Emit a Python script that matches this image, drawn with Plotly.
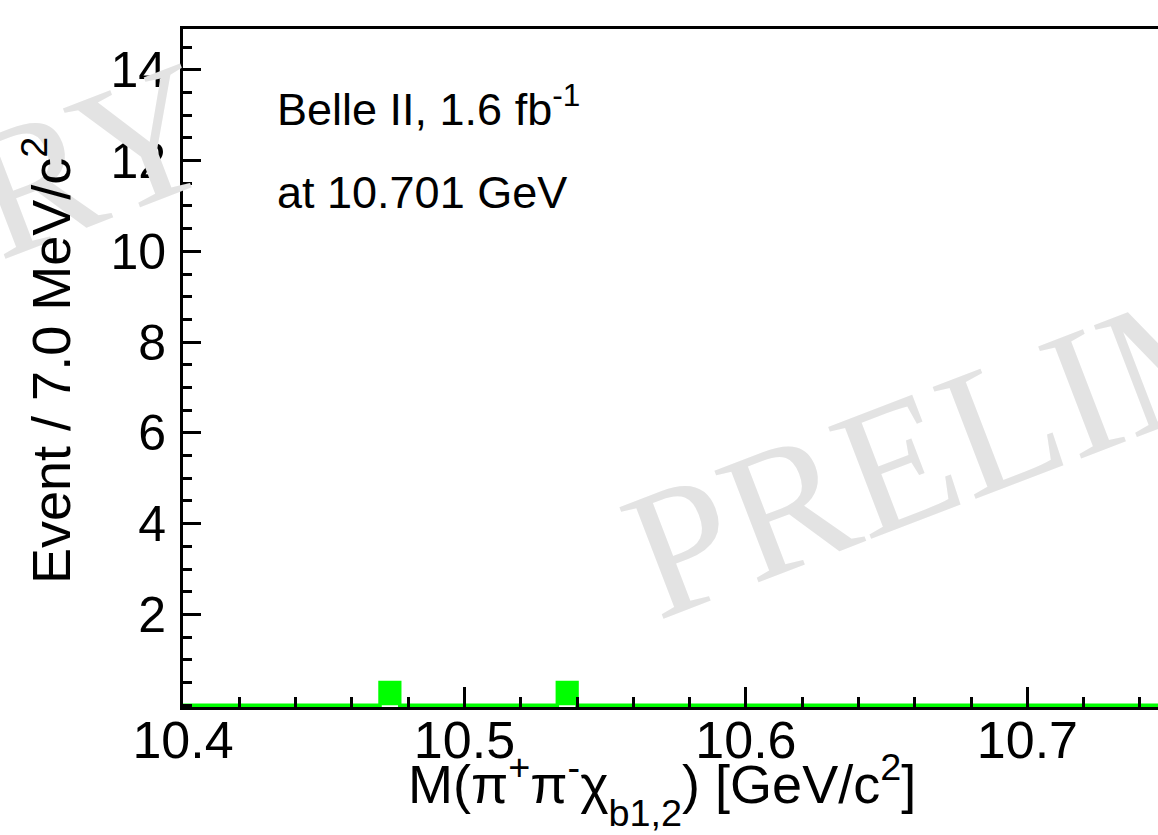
import numpy as np
import plotly.graph_objects as go

# Histogram binning: 7.0 MeV/c^2 bins starting at 10.4 GeV/c^2
bin_start = 10.4
bin_width = 0.007
counts = [0, 0, 0, 0, 0, 0, 0, 0, 0, 0,
          0.5, 0, 0, 0, 0, 0, 0, 0, 0, 0.5,
          0, 0, 0, 0, 0, 0, 0, 0, 0, 0,
          0, 0, 0, 0, 0, 0, 0, 0, 0, 0,
          0, 0, 0, 0, 0, 0, 0, 0, 0, 0]

x_ticks = [10.4, 10.5, 10.6, 10.7]
y_ticks = [2, 4, 6, 8, 10, 12, 14]

edges = bin_start + bin_width * np.arange(len(counts) + 1)
step_y = list(counts) + [counts[-1]]

W, H = 1158, 835
ML, MR, MT, MB = 183, 0, 29, 128
FONT = "Liberation Sans, Arial, Helvetica, sans-serif"
GREEN = "#00ff00"

fig = go.Figure()
fig.add_trace(go.Scatter(
    x=edges, y=step_y, mode="lines", line_shape="hv",
    line=dict(color=GREEN, width=3.5),
    fill="tozeroy", fillcolor=GREEN, hoverinfo="skip", showlegend=False,
))


def px_x(p):
    return (p - ML) / (W - ML - MR)


def px_y(p):
    return (H - MB - p) / (H - MT - MB)


annotations = []
# Watermark, tiled along a tilted baseline
for cx, cy in [(1214, 341), (-374, 338)]:
    annotations.append(dict(
        text="PRELIMINARY", xref="paper", yref="paper",
        x=px_x(cx), y=px_y(cy), xanchor="center", yanchor="middle",
        textangle=-21, showarrow=False,
        font=dict(family="Liberation Serif, Times New Roman, serif",
                  size=183, color="#e3e3e3"),
    ))

x_title = ("M(π<sup>+</sup>π<sup>-</sup>χ"
           "<sub><span style=\"baseline-shift:-12px\">b1,2</span></sub>"
           ") [GeV/c<sup>2</sup>]")

annotations += [
    dict(text="Belle II, 1.6 fb<sup>-1</sup>", xref="paper", yref="paper",
         x=px_x(275), y=px_y(106), xanchor="left", yanchor="middle",
         showarrow=False, font=dict(family=FONT, size=45, color="black")),
    dict(text="at 10.701 GeV", xref="paper", yref="paper",
         x=px_x(275), y=px_y(192), xanchor="left", yanchor="middle",
         showarrow=False, font=dict(family=FONT, size=45, color="black")),
    dict(text="Event / 7.0 MeV/c<sup>2</sup>", xref="paper", yref="paper",
         x=px_x(47), y=px_y(361), xanchor="center", yanchor="middle",
         textangle=-90, showarrow=False,
         font=dict(family=FONT, size=54, color="black")),
    dict(text=x_title, xref="paper", yref="paper",
         x=px_x(662), y=px_y(790), xanchor="center", yanchor="middle",
         showarrow=False, font=dict(family=FONT, size=54, color="black")),
]

fig.update_layout(
    width=W, height=H,
    margin=dict(l=ML, r=MR, t=MT, b=MB, pad=0),
    paper_bgcolor="white", plot_bgcolor="white",
    annotations=annotations,
    xaxis=dict(
        range=[10.4, 10.7464], tickvals=x_ticks,
        ticktext=[f"{v:.1f}" for v in x_ticks],
        ticks="inside", ticklen=20, tickwidth=2.5, tickcolor="black",
        minor=dict(ticks="inside", ticklen=10, tickwidth=2.5,
                   tickcolor="black", dtick=0.02, tick0=10.4),
        showline=True, linecolor="black", linewidth=3, mirror=True,
        showgrid=False, zeroline=False, ticklabelstandoff=-14,
        tickfont=dict(family=FONT, size=52, color="black"),
    ),
    yaxis=dict(
        range=[-0.04, 14.9], tickvals=y_ticks,
        ticks="inside", ticklen=18, tickwidth=2.5, tickcolor="black",
        minor=dict(ticks="inside", ticklen=9, tickwidth=2.5,
                   tickcolor="black", dtick=0.5, tick0=0),
        showline=True, linecolor="black", linewidth=3, mirror=False,
        showgrid=False, zeroline=False, ticklabelstandoff=4,
        tickfont=dict(family=FONT, size=50, color="black"),
    ),
)

fig.write_html("out.html")
